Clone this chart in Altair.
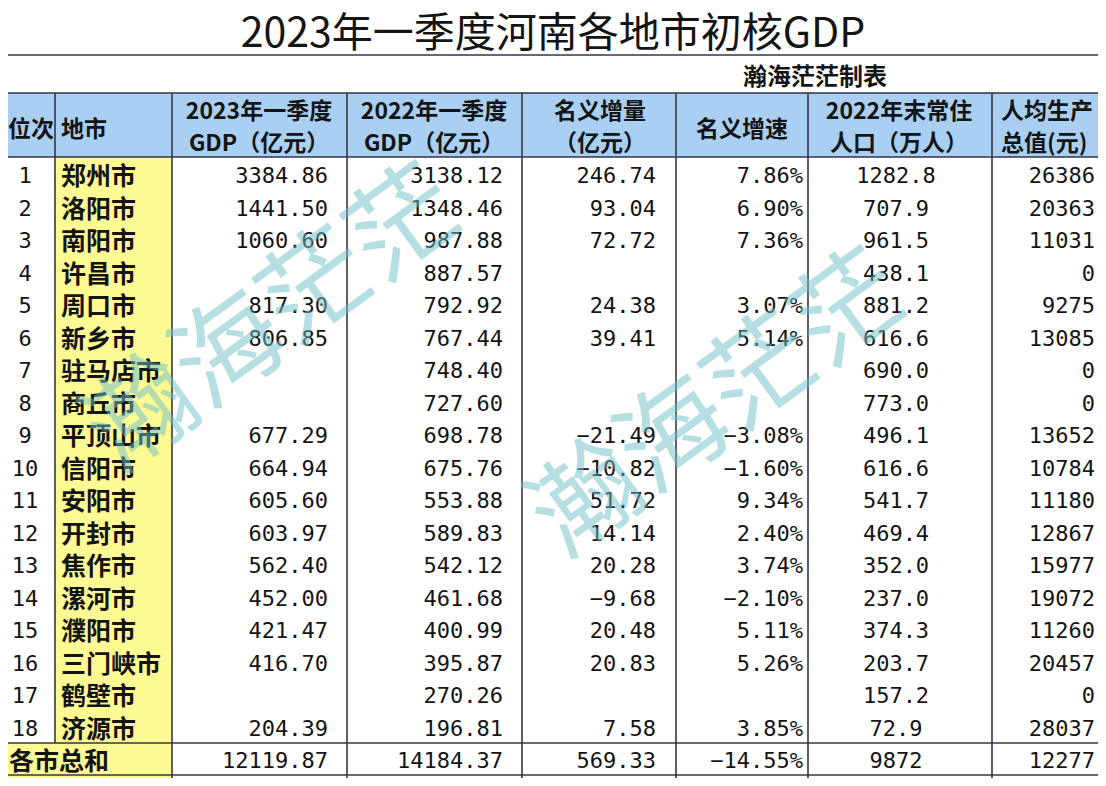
import altair as alt
import pandas as pd

# ---------------- data ----------------
title_text = "2023年一季度河南各地市初核GDP"
maker_text = "瀚海茫茫制表"
watermark_text = "瀚海茫茫"
header_top = ["位次", "地市", "2023年一季度", "2022年一季度", "名义增量", "名义增速", "2022年末常住", "人均生产"]
header_bottom = ["", "", "GDP（亿元）", "GDP（亿元）", "（亿元）", "", "人口（万人）", "总值(元)"]

ranks = [1, 2, 3, 4, 5, 6, 7, 8, 9, 10, 11, 12, 13, 14, 15, 16, 17, 18]
cities = ["郑州市", "洛阳市", "南阳市", "许昌市", "周口市", "新乡市", "驻马店市", "商丘市", "平顶山市",
          "信阳市", "安阳市", "开封市", "焦作市", "漯河市", "濮阳市", "三门峡市", "鹤壁市", "济源市"]
gdp_2023 = [3384.86, 1441.50, 1060.60, None, 817.30, 806.85, None, None, 677.29,
            664.94, 605.60, 603.97, 562.40, 452.00, 421.47, 416.70, None, 204.39]
gdp_2022 = [3138.12, 1348.46, 987.88, 887.57, 792.92, 767.44, 748.40, 727.60, 698.78,
            675.76, 553.88, 589.83, 542.12, 461.68, 400.99, 395.87, 270.26, 196.81]
nominal_increase = [246.74, 93.04, 72.72, None, 24.38, 39.41, None, None, -21.49,
                    -10.82, 51.72, 14.14, 20.28, -9.68, 20.48, 20.83, None, 7.58]
nominal_growth_pct = [7.86, 6.90, 7.36, None, 3.07, 5.14, None, None, -3.08,
                      -1.60, 9.34, 2.40, 3.74, -2.10, 5.11, 5.26, None, 3.85]
population_2022 = [1282.8, 707.9, 961.5, 438.1, 881.2, 616.6, 690.0, 773.0, 496.1,
                   616.6, 541.7, 469.4, 352.0, 237.0, 374.3, 203.7, 157.2, 72.9]
per_capita_gdp = [26386, 20363, 11031, 0, 9275, 13085, 0, 0, 13652,
                  10784, 11180, 12867, 15977, 19072, 11260, 20457, 0, 28037]

total_label = "各市总和"
total_gdp_2023 = 12119.87
total_gdp_2022 = 14184.37
total_increase = 569.33
total_growth_pct = -14.55
total_population = 9872
total_per_capita = 12277

# ---------------- layout (reference pixel units) ----------------
W, H = 1090, 770
X0, Y0 = 8, 8
xs = alt.Scale(domain=[X0, X0 + W], range=[0, W], nice=False, zero=False)
ys = alt.Scale(domain=[Y0, Y0 + H], range=[0, H], nice=False, zero=False)

LEFT, RIGHT = 2, 1103
Y_TOP, Y_TITLE, Y_MAKER, Y_HEAD, Y_DATA, Y_TOTAL, Y_END = 1, 55, 93, 157, 743, 775, 790
COL_EDGES = [55, 172, 347, 522, 676, 808, 992]
ROW_FIRST, ROW_STEP = 175, 32.5
TOTAL_Y = 760
DATA_ANCHOR = [(25, "center"), (61, "left"), (328, "right"), (503, "right"),
               (656, "right"), (803, "right"), (896, "center"), (1095, "right")]
HEAD_ANCHOR = [(31, "center"), (61, "left"), (259, "center"), (434, "center"),
               (600, "center"), (742, "center"), (899, "center"), (1001, "left")]
HEAD_Y1, HEAD_Y2, HEAD_YS = 110, 142, 128

HEADER_BLUE = "#A9CFF3"
YELLOW = "#FDFA94"
LINE = "#35354a"
TEXT = "#141414"
WM_COLOR = "#6fc0c8"
CJK = "Noto Sans CJK SC"
MONO = "DejaVu Sans Mono"


def fmt2(v):
    return None if v is None else f"{v:.2f}".replace("-", "−")


def fmt1(v):
    return None if v is None else f"{v:.1f}"


def fmtpct(v):
    return None if v is None else f"{v:.2f}%".replace("-", "−")


# ---------------- tables ----------------
fills = pd.DataFrame([
    dict(x=LEFT, x2=RIGHT, y=Y_MAKER, y2=Y_HEAD, fill=HEADER_BLUE),
    dict(x=COL_EDGES[0], x2=COL_EDGES[1], y=Y_HEAD, y2=Y_DATA, fill=YELLOW),
    dict(x=LEFT, x2=COL_EDGES[1], y=Y_DATA, y2=Y_END, fill=YELLOW),
])

lines = []
for yy in [Y_TOP, Y_TITLE, Y_MAKER, Y_HEAD, Y_DATA, Y_TOTAL]:
    lines.append(dict(x=LEFT, x2=RIGHT, y=yy, y2=yy))
lines.append(dict(x=LEFT, x2=LEFT, y=Y_TOP, y2=Y_END))
lines.append(dict(x=RIGHT, x2=RIGHT, y=Y_TOP, y2=Y_END))
lines.append(dict(x=COL_EDGES[0], x2=COL_EDGES[0], y=Y_MAKER, y2=Y_DATA))
for xx in COL_EDGES[1:]:
    lines.append(dict(x=xx, x2=xx, y=Y_MAKER, y2=Y_END))
lines = pd.DataFrame(lines)

cells = []
# header
for c, (t1, t2) in enumerate(zip(header_top, header_bottom)):
    hx, ha = HEAD_ANCHOR[c]
    if t2:
        cells.append(dict(x=hx, y=HEAD_Y1, text=t1, align=ha, kind="head"))
        cells.append(dict(x=hx, y=HEAD_Y2, text=t2, align=ha, kind="head"))
    else:
        cells.append(dict(x=hx, y=HEAD_YS, text=t1, align=ha, kind="head"))
# body
for i in range(len(cities)):
    vals = [str(ranks[i]), cities[i], fmt2(gdp_2023[i]), fmt2(gdp_2022[i]),
            fmt2(nominal_increase[i]), fmtpct(nominal_growth_pct[i]),
            fmt1(population_2022[i]), str(per_capita_gdp[i])]
    yy = ROW_FIRST + ROW_STEP * i
    for c, v in enumerate(vals):
        if v is None:
            continue
        ax, al = DATA_ANCHOR[c]
        cells.append(dict(x=ax, y=yy, text=v, align=al, kind="cjk" if c == 1 else "mono"))
# totals
cells.append(dict(x=9, y=TOTAL_Y, text=total_label, align="left", kind="cjk"))
tot = [fmt2(total_gdp_2023), fmt2(total_gdp_2022), fmt2(total_increase),
       fmtpct(total_growth_pct), str(total_population), str(total_per_capita)]
for c, v in zip(range(2, 8), tot):
    ax, al = DATA_ANCHOR[c]
    cells.append(dict(x=ax, y=TOTAL_Y, text=v, align=al, kind="mono"))
cells = pd.DataFrame(cells)

titles = pd.DataFrame([dict(x=553, y=34, text=title_text)])
maker = pd.DataFrame([dict(x=815, y=76, text=maker_text)])
marks_wm = pd.DataFrame([dict(x=275, y=322, text=watermark_text),
                         dict(x=720, y=407, text=watermark_text)])

X = alt.X("x:Q", scale=xs, axis=None)
Y = alt.Y("y:Q", scale=ys, axis=None)

fill_layer = alt.Chart(fills).mark_rect(clip=True).encode(
    x=X, x2="x2:Q", y=Y, y2="y2:Q", color=alt.Color("fill:N", scale=None))
line_layer = alt.Chart(lines).mark_rule(color=LINE, strokeWidth=1.6, clip=True).encode(
    x=X, x2="x2:Q", y=Y, y2="y2:Q")


def text_layer(df, font, size, align, weight="normal", dy=0.0, color=TEXT, angle=0,
               opacity=1.0, clip=True):
    return alt.Chart(df).mark_text(
        font=font, fontSize=size, align=align, baseline="middle", fontWeight=weight,
        dy=dy, color=color, angle=angle, opacity=opacity, clip=clip
    ).encode(x=X, y=Y, text="text:N")


layers = [fill_layer, line_layer]
specs = {"head": (CJK, 23, 2, "bold"), "cjk": (CJK, 25, 2, "bold"), "mono": (MONO, 22, 1, "normal")}
for kind, (font, size, dy, wt) in specs.items():
    for al in ["left", "center", "right"]:
        sub = cells[(cells["kind"] == kind) & (cells["align"] == al)]
        if len(sub):
            layers.append(text_layer(sub, font, size, al, weight=wt, dy=dy))
layers.append(text_layer(titles, CJK, 41, "center", dy=1, clip=False))
layers.append(text_layer(maker, CJK, 24, "center", weight="bold", dy=2))
layers.append(text_layer(marks_wm, CJK, 108, "center", weight="normal", color=WM_COLOR,
                         angle=324, opacity=0.5))

chart = alt.layer(*layers).properties(
    width=W, height=H, padding=0, autosize=alt.AutoSizeParams(type="none"),
    background="white"
).configure_view(stroke=None)

chart.save("out.html", embed_options={"renderer": "svg", "actions": False})
